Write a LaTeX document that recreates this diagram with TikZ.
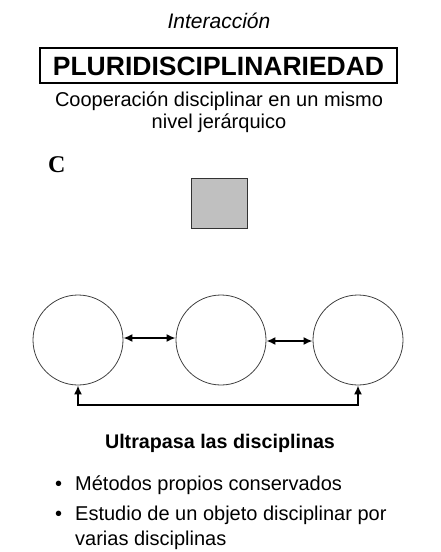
\documentclass[tikz,border=0pt]{standalone}
\usepackage{fontspec}
\setmainfont{Liberation Sans}
\newfontfamily\serifbf{Liberation Serif}
\usetikzlibrary{arrows.meta}
\definecolor{sqgray}{RGB}{192,192,192}
\begin{document}
\begin{tikzpicture}[x=1pt,y=-1pt,
  txt/.style={inner sep=0pt, anchor=base},
  txtl/.style={inner sep=0pt, anchor=base west},
  circ/.style={circle, draw=black!75, line width=0.8pt, minimum size=90pt, inner sep=0pt},
  conn/.style={line width=2.2pt, {Latex[length=9pt,width=8pt]}-{Latex[length=9pt,width=8pt]}}]
\useasboundingbox (0,0) rectangle (440,552);
\node[txt] (title) at (219,28) {\fontsize{21}{24}\selectfont\itshape Interacción};
\node[draw, line width=2.5pt, minimum width=357pt, minimum height=35pt, inner sep=0pt,
      text height=19pt, text depth=0pt] (pluri) at (218.5,65.5)
      {\fontsize{26.5}{30}\selectfont\bfseries PLURIDISCIPLINARIEDAD};
\node[txt] (sub1) at (219,106) {\fontsize{20}{22}\selectfont Cooperación disciplinar en un mismo};
\node[txt] (sub2) at (219,128) {\fontsize{20}{22}\selectfont nivel jerárquico};
\node[txtl] (C) at (48,172) {\serifbf\bfseries\fontsize{24}{28}\selectfont C};
\node[draw=black!80, fill=sqgray, line width=0.8pt, minimum width=56pt, minimum height=50pt, inner sep=0pt] (sq) at (219,203) {};
\node[circ] (c1) at (78,340) {};
\node[circ] (c2) at (221,340) {};
\node[circ] (c3) at (358,340) {};
\draw[conn] ([yshift=2pt]c1.east) -- ([yshift=2pt]c2.west);
\draw[conn] ([yshift=-1pt]c2.east) -- ([yshift=-1pt]c3.west);
\coordinate (bot) at (358,405);
\draw[conn] (c1.south) |- (bot) -- (c3.south);
\node[txt] (ultra) at (220,448) {\fontsize{19.7}{22}\selectfont\bfseries Ultrapasa las disciplinas};
\node[txtl] (b1) at (55,490) {\fontsize{20}{22}\selectfont\textbullet};
\node[txtl] (t1) at (75,490) {\fontsize{20}{22}\selectfont Métodos propios conservados};
\node[txtl] (b2) at (55,520) {\fontsize{20}{22}\selectfont\textbullet};
\node[txtl] (t2) at (75,520) {\fontsize{20}{22}\selectfont Estudio de un objeto disciplinar por};
\node[txtl] (t3) at (75,545) {\fontsize{20}{22}\selectfont varias disciplinas};
\end{tikzpicture}
\end{document}
